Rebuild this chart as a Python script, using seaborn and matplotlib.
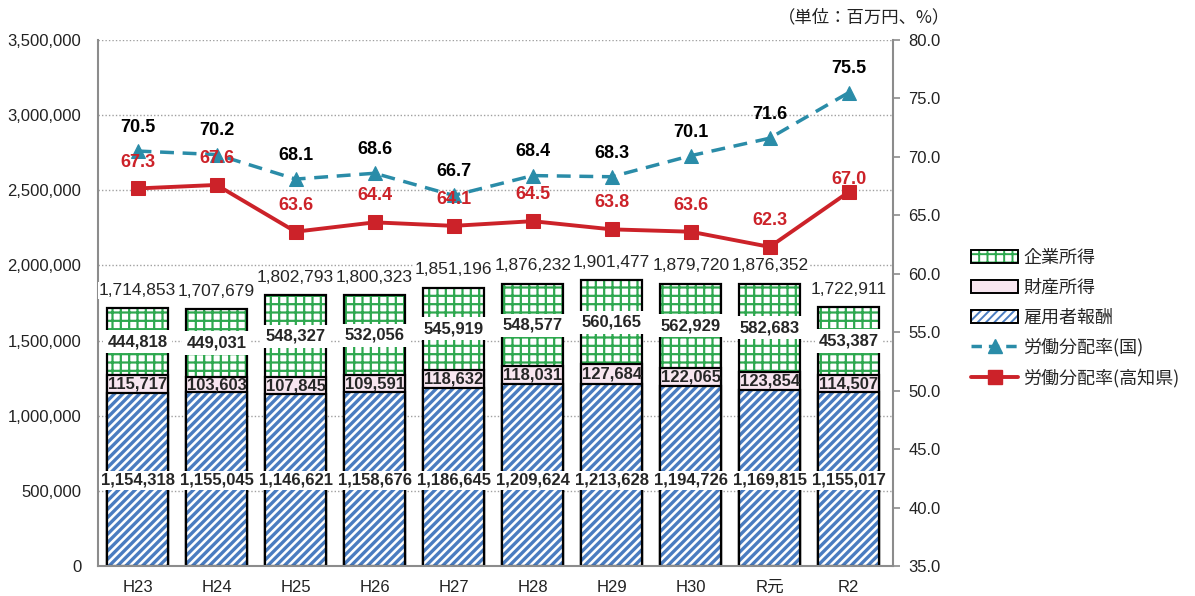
import numpy as np
import pandas as pd
import matplotlib
matplotlib.use("Agg")
import matplotlib.pyplot as plt
import seaborn as sns
from matplotlib.patches import Patch
from matplotlib.lines import Line2D
from matplotlib.legend_handler import HandlerTuple
from matplotlib.colors import to_rgba

categories = ["H23", "H24", "H25", "H26", "H27", "H28", "H29", "H30", "R元", "R2"]
employee = [1154318, 1155045, 1146621, 1158676, 1186645, 1209624, 1213628, 1194726, 1169815, 1155017]
property_inc = [115717, 103603, 107845, 109591, 118632, 118031, 127684, 122065, 123854, 114507]
corporate = [444818, 449031, 548327, 532056, 545919, 548577, 560165, 562929, 582683, 453387]
totals = [1714853, 1707679, 1802793, 1800323, 1851196, 1876232, 1901477, 1879720, 1876352, 1722911]
national_rate = [70.5, 70.2, 68.1, 68.6, 66.7, 68.4, 68.3, 70.1, 71.6, 75.5]
kochi_rate = [67.3, 67.6, 63.6, 64.4, 64.1, 64.5, 63.8, 63.6, 62.3, 67.0]

sns.set_theme(style="white")
plt.rcParams["font.family"] = ["Liberation Sans", "Noto Sans CJK JP", "DejaVu Sans"]

BLUE = "#4A7CC0"
GREEN = "#2EA84F"
PINK = "#F8E6F0"
TEAL = "#2A8CA8"
RED = "#CC2229"
GRAY = "#8C8C8C"

df = pd.DataFrame({
    "cat": categories,
    "emp": employee,
    "prop": property_inc,
    "corp": corporate,
    "total": totals,
    "nat": national_rate,
    "kochi": kochi_rate,
})
df["emp_prop"] = df["emp"] + df["prop"]
df["pos"] = np.arange(len(df))

fig = plt.figure(figsize=(11.95, 5.96), dpi=100)
ax = fig.add_axes([98 / 1195, 30 / 596, 795 / 1195, 526 / 596])

W = 0.77


def layer(col, face, hatch, hcolor, hlw):
    plt.rcParams["hatch.linewidth"] = hlw
    n0 = len(ax.patches)
    sns.barplot(data=df, x="cat", y=col, ax=ax, color=face, saturation=1,
                width=W, edgecolor="black", linewidth=1.6, hatch=hatch, zorder=2)
    for p in ax.patches[n0:]:
        p._hatch_color = to_rgba(hcolor)


layer("total", "white", "++", GREEN, 1.6)
layer("emp_prop", PINK, None, "black", 1.6)
layer("emp", "white", "////", BLUE, 2.4)

ax.set_ylim(0, 3500000)
ax.set_xlim(-0.5, 9.56)
ax.set_yticks(np.arange(0, 3500001, 500000))
ax.yaxis.set_major_formatter(matplotlib.ticker.FuncFormatter(lambda v, p: f"{int(v):,}"))
ax.set_xlabel("")
ax.set_ylabel("")
ax.grid(axis="y", linestyle=(0, (1, 1.5)), color="#A0A0A0", linewidth=1.0)
ax.set_axisbelow(True)
for s in ["top", "right"]:
    ax.spines[s].set_visible(False)
ax.spines["left"].set_color(GRAY)
ax.spines["bottom"].set_color(GRAY)
ax.spines["left"].set_linewidth(1.5)
ax.spines["bottom"].set_linewidth(1.5)
ax.tick_params(axis="y", labelsize=12, length=0, pad=12, colors="#222222")
ax.tick_params(axis="x", labelsize=12, length=0, pad=10, colors="#222222")

# bar labels
for i, r in df.iterrows():
    ax.text(r["pos"], 572000, f"{r['emp']:,}", ha="center", va="center", fontsize=12,
            fontweight="bold", zorder=5,
            bbox=dict(boxstyle="square,pad=0.12", fc="white", ec="none"))
    ax.text(r["pos"], r["emp"] + r["prop"] / 2, f"{r['prop']:,}", ha="center", va="center",
            fontsize=12, fontweight="bold", zorder=5)
    ax.text(r["pos"], r["emp_prop"] + r["corp"] / 2, f"{r['corp']:,}", ha="center", va="center",
            fontsize=12, fontweight="bold", zorder=5,
            bbox=dict(boxstyle="square,pad=0.25", fc="white", ec="none"))
    ax.annotate(f"{r['total']:,}", (r["pos"], r["total"]), xytext=(0, 13),
                textcoords="offset points", ha="center", va="center", fontsize=12.5,
                zorder=5, annotation_clip=False,
                bbox=dict(boxstyle="square,pad=0.05", fc="white", ec="none"))

ax2 = ax.twinx()
sns.lineplot(data=df, x="pos", y="nat", ax=ax2, color=TEAL, linestyle=(0, (4, 2.5)),
             linewidth=2.5, marker="^", markersize=10, markeredgecolor=TEAL, legend=False)
sns.lineplot(data=df, x="pos", y="kochi", ax=ax2, color=RED, linewidth=2.8,
             marker="s", markersize=10, markeredgecolor=RED, legend=False)
ax2.set_ylim(35, 80)
ax2.set_yticks(np.arange(35, 80.1, 5))
ax2.yaxis.set_major_formatter(matplotlib.ticker.FormatStrFormatter("%.1f"))
ax2.set_ylabel("")
ax2.set_xlabel("")
ax2.set_xlim(-0.5, 9.56)
for s in ["top", "left", "bottom"]:
    ax2.spines[s].set_visible(False)
ax2.spines["right"].set_color(GRAY)
ax2.spines["right"].set_linewidth(1.5)
ax2.tick_params(axis="y", labelsize=12, length=5, width=1.2, pad=6, colors="#222222")
ax2.tick_params(axis="y", color=GRAY)

for i, r in df.iterrows():
    ax2.annotate(f"{r['nat']:.1f}", (r["pos"], r["nat"]), xytext=(0, 17),
                 textcoords="offset points", ha="center", va="center", fontsize=13,
                 fontweight="bold", color="black")
    dy = 9 if i == len(df) - 1 else 19
    ax2.annotate(f"{r['kochi']:.1f}", (r["pos"], r["kochi"]), xytext=(0, dy),
                 textcoords="offset points", ha="center", va="center", fontsize=13,
                 fontweight="bold", color=RED)

fig.text(950 / 1195, 1 - 17 / 596, "（単位：百万円、%）", ha="right", va="center",
         fontsize=12.5, family=["Noto Sans CJK JP"], color="#222222")

plt.rcParams["hatch.linewidth"] = 1.4
h_corp = (Patch(facecolor="white", edgecolor=GREEN, hatch="++", linewidth=0),
          Patch(facecolor="none", edgecolor="black", linewidth=1.4))
h_prop = Patch(facecolor=PINK, edgecolor="black", linewidth=1.4)
h_emp = (Patch(facecolor="white", edgecolor=BLUE, hatch="////", linewidth=0),
         Patch(facecolor="none", edgecolor="black", linewidth=1.4))
h_nat = Line2D([], [], color=TEAL, linestyle=(0, (3, 2)), linewidth=2.5, marker="^",
               markersize=10)
h_koc = Line2D([], [], color=RED, linewidth=2.8, marker="s", markersize=10)
leg = fig.legend([h_corp, h_prop, h_emp, h_nat, h_koc],
                 ["企業所得", "財産所得", "雇用者報酬", "労働分配率(国)", "労働分配率(高知県)"],
                 handler_map={tuple: HandlerTuple(ndivide=1)},
                 loc="upper left", bbox_to_anchor=(962 / 1195, 1 - 240 / 596),
                 frameon=False, labelspacing=0.65, handlelength=2.6,
                 handleheight=0.7, handletextpad=0.3, borderpad=0,
                 prop={"family": ["Noto Sans CJK JP"], "size": 13})

fig.savefig("out.png", dpi=100)
